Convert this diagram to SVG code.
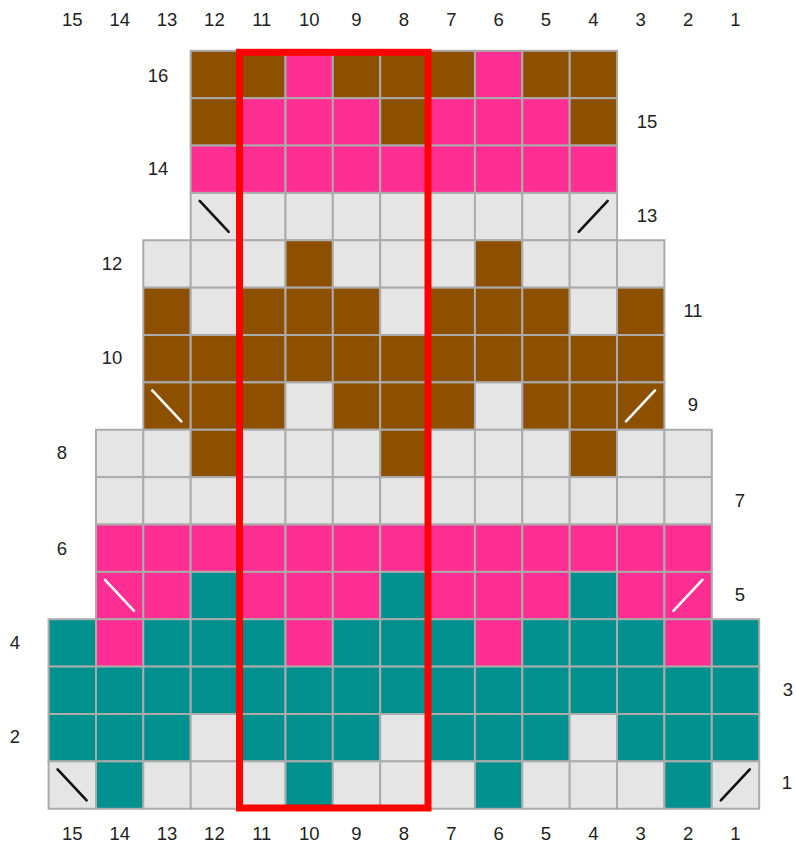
<svg xmlns="http://www.w3.org/2000/svg" width="796" height="855" viewBox="0 0 796 855">
<style>
rect.c{stroke:#ababab;stroke-width:2;width:47.4px;height:47.4px}
.b{fill:#8d5000}.p{fill:#ff2e92}.t{fill:#00918e}.g{fill:#e5e5e5}
.dk{stroke:#111;stroke-width:2.6;stroke-linecap:round}
.wh{stroke:#fff;stroke-width:2.6;stroke-linecap:round}
text{font-family:"Liberation Sans",Arial,sans-serif;font-size:18.5px;fill:#222;text-anchor:middle}
</style>
<rect width="796" height="855" fill="#fff"/>
<g id="row16" transform="translate(0,50.8)">
<rect class="c b" x="190.7" y="0" width="47.4" height="47.4"/><rect class="c b" x="238.1" y="0" width="47.4" height="47.4"/><rect class="c p" x="285.5" y="0" width="47.4" height="47.4"/><rect class="c b" x="332.8" y="0" width="47.4" height="47.4"/><rect class="c b" x="380.2" y="0" width="47.4" height="47.4"/><rect class="c b" x="427.6" y="0" width="47.4" height="47.4"/><rect class="c p" x="474.9" y="0" width="47.4" height="47.4"/><rect class="c b" x="522.3" y="0" width="47.4" height="47.4"/><rect class="c b" x="569.7" y="0" width="47.4" height="47.4"/>
</g>
<g id="row15" transform="translate(0,98.17)">
<rect class="c b" x="190.7" y="0" width="47.4" height="47.4"/><rect class="c p" x="238.1" y="0" width="47.4" height="47.4"/><rect class="c p" x="285.5" y="0" width="47.4" height="47.4"/><rect class="c p" x="332.8" y="0" width="47.4" height="47.4"/><rect class="c b" x="380.2" y="0" width="47.4" height="47.4"/><rect class="c p" x="427.6" y="0" width="47.4" height="47.4"/><rect class="c p" x="474.9" y="0" width="47.4" height="47.4"/><rect class="c p" x="522.3" y="0" width="47.4" height="47.4"/><rect class="c b" x="569.7" y="0" width="47.4" height="47.4"/>
</g>
<g id="row14" transform="translate(0,145.54)">
<rect class="c p" x="190.7" y="0" width="47.4" height="47.4"/><rect class="c p" x="238.1" y="0" width="47.4" height="47.4"/><rect class="c p" x="285.5" y="0" width="47.4" height="47.4"/><rect class="c p" x="332.8" y="0" width="47.4" height="47.4"/><rect class="c p" x="380.2" y="0" width="47.4" height="47.4"/><rect class="c p" x="427.6" y="0" width="47.4" height="47.4"/><rect class="c p" x="474.9" y="0" width="47.4" height="47.4"/><rect class="c p" x="522.3" y="0" width="47.4" height="47.4"/><rect class="c p" x="569.7" y="0" width="47.4" height="47.4"/>
</g>
<g id="row13" transform="translate(0,192.91)">
<rect class="c g" x="190.7" y="0" width="47.4" height="47.4"/><rect class="c g" x="238.1" y="0" width="47.4" height="47.4"/><rect class="c g" x="285.5" y="0" width="47.4" height="47.4"/><rect class="c g" x="332.8" y="0" width="47.4" height="47.4"/><rect class="c g" x="380.2" y="0" width="47.4" height="47.4"/><rect class="c g" x="427.6" y="0" width="47.4" height="47.4"/><rect class="c g" x="474.9" y="0" width="47.4" height="47.4"/><rect class="c g" x="522.3" y="0" width="47.4" height="47.4"/><rect class="c g" x="569.7" y="0" width="47.4" height="47.4"/>
<line class="dk" x1="199.7" y1="8" x2="228.7" y2="39"/><line class="dk" x1="578.7" y1="39" x2="607.7" y2="8"/>
</g>
<g id="row12" transform="translate(0,240.28)">
<rect class="c g" x="143.3" y="0" width="47.4" height="47.4"/><rect class="c g" x="190.7" y="0" width="47.4" height="47.4"/><rect class="c g" x="238.1" y="0" width="47.4" height="47.4"/><rect class="c b" x="285.5" y="0" width="47.4" height="47.4"/><rect class="c g" x="332.8" y="0" width="47.4" height="47.4"/><rect class="c g" x="380.2" y="0" width="47.4" height="47.4"/><rect class="c g" x="427.6" y="0" width="47.4" height="47.4"/><rect class="c b" x="474.9" y="0" width="47.4" height="47.4"/><rect class="c g" x="522.3" y="0" width="47.4" height="47.4"/><rect class="c g" x="569.7" y="0" width="47.4" height="47.4"/><rect class="c g" x="617.0" y="0" width="47.4" height="47.4"/>
</g>
<g id="row11" transform="translate(0,287.65)">
<rect class="c b" x="143.3" y="0" width="47.4" height="47.4"/><rect class="c g" x="190.7" y="0" width="47.4" height="47.4"/><rect class="c b" x="238.1" y="0" width="47.4" height="47.4"/><rect class="c b" x="285.5" y="0" width="47.4" height="47.4"/><rect class="c b" x="332.8" y="0" width="47.4" height="47.4"/><rect class="c g" x="380.2" y="0" width="47.4" height="47.4"/><rect class="c b" x="427.6" y="0" width="47.4" height="47.4"/><rect class="c b" x="474.9" y="0" width="47.4" height="47.4"/><rect class="c b" x="522.3" y="0" width="47.4" height="47.4"/><rect class="c g" x="569.7" y="0" width="47.4" height="47.4"/><rect class="c b" x="617.0" y="0" width="47.4" height="47.4"/>
</g>
<g id="row10" transform="translate(0,335.02)">
<rect class="c b" x="143.3" y="0" width="47.4" height="47.4"/><rect class="c b" x="190.7" y="0" width="47.4" height="47.4"/><rect class="c b" x="238.1" y="0" width="47.4" height="47.4"/><rect class="c b" x="285.5" y="0" width="47.4" height="47.4"/><rect class="c b" x="332.8" y="0" width="47.4" height="47.4"/><rect class="c b" x="380.2" y="0" width="47.4" height="47.4"/><rect class="c b" x="427.6" y="0" width="47.4" height="47.4"/><rect class="c b" x="474.9" y="0" width="47.4" height="47.4"/><rect class="c b" x="522.3" y="0" width="47.4" height="47.4"/><rect class="c b" x="569.7" y="0" width="47.4" height="47.4"/><rect class="c b" x="617.0" y="0" width="47.4" height="47.4"/>
</g>
<g id="row9" transform="translate(0,382.39)">
<rect class="c b" x="143.3" y="0" width="47.4" height="47.4"/><rect class="c b" x="190.7" y="0" width="47.4" height="47.4"/><rect class="c b" x="238.1" y="0" width="47.4" height="47.4"/><rect class="c g" x="285.5" y="0" width="47.4" height="47.4"/><rect class="c b" x="332.8" y="0" width="47.4" height="47.4"/><rect class="c b" x="380.2" y="0" width="47.4" height="47.4"/><rect class="c b" x="427.6" y="0" width="47.4" height="47.4"/><rect class="c g" x="474.9" y="0" width="47.4" height="47.4"/><rect class="c b" x="522.3" y="0" width="47.4" height="47.4"/><rect class="c b" x="569.7" y="0" width="47.4" height="47.4"/><rect class="c b" x="617.0" y="0" width="47.4" height="47.4"/>
<line class="wh" x1="152.3" y1="8" x2="181.3" y2="39"/><line class="wh" x1="626" y1="39" x2="655" y2="8"/>
</g>
<g id="row8" transform="translate(0,429.76)">
<rect class="c g" x="96.0" y="0" width="47.4" height="47.4"/><rect class="c g" x="143.3" y="0" width="47.4" height="47.4"/><rect class="c b" x="190.7" y="0" width="47.4" height="47.4"/><rect class="c g" x="238.1" y="0" width="47.4" height="47.4"/><rect class="c g" x="285.5" y="0" width="47.4" height="47.4"/><rect class="c g" x="332.8" y="0" width="47.4" height="47.4"/><rect class="c b" x="380.2" y="0" width="47.4" height="47.4"/><rect class="c g" x="427.6" y="0" width="47.4" height="47.4"/><rect class="c g" x="474.9" y="0" width="47.4" height="47.4"/><rect class="c g" x="522.3" y="0" width="47.4" height="47.4"/><rect class="c b" x="569.7" y="0" width="47.4" height="47.4"/><rect class="c g" x="617.0" y="0" width="47.4" height="47.4"/><rect class="c g" x="664.4" y="0" width="47.4" height="47.4"/>
</g>
<g id="row7" transform="translate(0,477.13)">
<rect class="c g" x="96.0" y="0" width="47.4" height="47.4"/><rect class="c g" x="143.3" y="0" width="47.4" height="47.4"/><rect class="c g" x="190.7" y="0" width="47.4" height="47.4"/><rect class="c g" x="238.1" y="0" width="47.4" height="47.4"/><rect class="c g" x="285.5" y="0" width="47.4" height="47.4"/><rect class="c g" x="332.8" y="0" width="47.4" height="47.4"/><rect class="c g" x="380.2" y="0" width="47.4" height="47.4"/><rect class="c g" x="427.6" y="0" width="47.4" height="47.4"/><rect class="c g" x="474.9" y="0" width="47.4" height="47.4"/><rect class="c g" x="522.3" y="0" width="47.4" height="47.4"/><rect class="c g" x="569.7" y="0" width="47.4" height="47.4"/><rect class="c g" x="617.0" y="0" width="47.4" height="47.4"/><rect class="c g" x="664.4" y="0" width="47.4" height="47.4"/>
</g>
<g id="row6" transform="translate(0,524.5)">
<rect class="c p" x="96.0" y="0" width="47.4" height="47.4"/><rect class="c p" x="143.3" y="0" width="47.4" height="47.4"/><rect class="c p" x="190.7" y="0" width="47.4" height="47.4"/><rect class="c p" x="238.1" y="0" width="47.4" height="47.4"/><rect class="c p" x="285.5" y="0" width="47.4" height="47.4"/><rect class="c p" x="332.8" y="0" width="47.4" height="47.4"/><rect class="c p" x="380.2" y="0" width="47.4" height="47.4"/><rect class="c p" x="427.6" y="0" width="47.4" height="47.4"/><rect class="c p" x="474.9" y="0" width="47.4" height="47.4"/><rect class="c p" x="522.3" y="0" width="47.4" height="47.4"/><rect class="c p" x="569.7" y="0" width="47.4" height="47.4"/><rect class="c p" x="617.0" y="0" width="47.4" height="47.4"/><rect class="c p" x="664.4" y="0" width="47.4" height="47.4"/>
</g>
<g id="row5" transform="translate(0,571.87)">
<rect class="c p" x="96.0" y="0" width="47.4" height="47.4"/><rect class="c p" x="143.3" y="0" width="47.4" height="47.4"/><rect class="c t" x="190.7" y="0" width="47.4" height="47.4"/><rect class="c p" x="238.1" y="0" width="47.4" height="47.4"/><rect class="c p" x="285.5" y="0" width="47.4" height="47.4"/><rect class="c p" x="332.8" y="0" width="47.4" height="47.4"/><rect class="c t" x="380.2" y="0" width="47.4" height="47.4"/><rect class="c p" x="427.6" y="0" width="47.4" height="47.4"/><rect class="c p" x="474.9" y="0" width="47.4" height="47.4"/><rect class="c p" x="522.3" y="0" width="47.4" height="47.4"/><rect class="c t" x="569.7" y="0" width="47.4" height="47.4"/><rect class="c p" x="617.0" y="0" width="47.4" height="47.4"/><rect class="c p" x="664.4" y="0" width="47.4" height="47.4"/>
<line class="wh" x1="105" y1="8" x2="134" y2="39"/><line class="wh" x1="673.4" y1="39" x2="702.4" y2="8"/>
</g>
<g id="row4" transform="translate(0,619.24)">
<rect class="c t" x="48.6" y="0" width="47.4" height="47.4"/><rect class="c p" x="96.0" y="0" width="47.4" height="47.4"/><rect class="c t" x="143.3" y="0" width="47.4" height="47.4"/><rect class="c t" x="190.7" y="0" width="47.4" height="47.4"/><rect class="c t" x="238.1" y="0" width="47.4" height="47.4"/><rect class="c p" x="285.5" y="0" width="47.4" height="47.4"/><rect class="c t" x="332.8" y="0" width="47.4" height="47.4"/><rect class="c t" x="380.2" y="0" width="47.4" height="47.4"/><rect class="c t" x="427.6" y="0" width="47.4" height="47.4"/><rect class="c p" x="474.9" y="0" width="47.4" height="47.4"/><rect class="c t" x="522.3" y="0" width="47.4" height="47.4"/><rect class="c t" x="569.7" y="0" width="47.4" height="47.4"/><rect class="c t" x="617.0" y="0" width="47.4" height="47.4"/><rect class="c p" x="664.4" y="0" width="47.4" height="47.4"/><rect class="c t" x="711.8" y="0" width="47.4" height="47.4"/>
</g>
<g id="row3" transform="translate(0,666.61)">
<rect class="c t" x="48.6" y="0" width="47.4" height="47.4"/><rect class="c t" x="96.0" y="0" width="47.4" height="47.4"/><rect class="c t" x="143.3" y="0" width="47.4" height="47.4"/><rect class="c t" x="190.7" y="0" width="47.4" height="47.4"/><rect class="c t" x="238.1" y="0" width="47.4" height="47.4"/><rect class="c t" x="285.5" y="0" width="47.4" height="47.4"/><rect class="c t" x="332.8" y="0" width="47.4" height="47.4"/><rect class="c t" x="380.2" y="0" width="47.4" height="47.4"/><rect class="c t" x="427.6" y="0" width="47.4" height="47.4"/><rect class="c t" x="474.9" y="0" width="47.4" height="47.4"/><rect class="c t" x="522.3" y="0" width="47.4" height="47.4"/><rect class="c t" x="569.7" y="0" width="47.4" height="47.4"/><rect class="c t" x="617.0" y="0" width="47.4" height="47.4"/><rect class="c t" x="664.4" y="0" width="47.4" height="47.4"/><rect class="c t" x="711.8" y="0" width="47.4" height="47.4"/>
</g>
<g id="row2" transform="translate(0,713.98)">
<rect class="c t" x="48.6" y="0" width="47.4" height="47.4"/><rect class="c t" x="96.0" y="0" width="47.4" height="47.4"/><rect class="c t" x="143.3" y="0" width="47.4" height="47.4"/><rect class="c g" x="190.7" y="0" width="47.4" height="47.4"/><rect class="c t" x="238.1" y="0" width="47.4" height="47.4"/><rect class="c t" x="285.5" y="0" width="47.4" height="47.4"/><rect class="c t" x="332.8" y="0" width="47.4" height="47.4"/><rect class="c g" x="380.2" y="0" width="47.4" height="47.4"/><rect class="c t" x="427.6" y="0" width="47.4" height="47.4"/><rect class="c t" x="474.9" y="0" width="47.4" height="47.4"/><rect class="c t" x="522.3" y="0" width="47.4" height="47.4"/><rect class="c g" x="569.7" y="0" width="47.4" height="47.4"/><rect class="c t" x="617.0" y="0" width="47.4" height="47.4"/><rect class="c t" x="664.4" y="0" width="47.4" height="47.4"/><rect class="c t" x="711.8" y="0" width="47.4" height="47.4"/>
</g>
<g id="row1" transform="translate(0,761.35)">
<rect class="c g" x="48.6" y="0" width="47.4" height="47.4"/><rect class="c t" x="96.0" y="0" width="47.4" height="47.4"/><rect class="c g" x="143.3" y="0" width="47.4" height="47.4"/><rect class="c g" x="190.7" y="0" width="47.4" height="47.4"/><rect class="c g" x="238.1" y="0" width="47.4" height="47.4"/><rect class="c t" x="285.5" y="0" width="47.4" height="47.4"/><rect class="c g" x="332.8" y="0" width="47.4" height="47.4"/><rect class="c g" x="380.2" y="0" width="47.4" height="47.4"/><rect class="c g" x="427.6" y="0" width="47.4" height="47.4"/><rect class="c t" x="474.9" y="0" width="47.4" height="47.4"/><rect class="c g" x="522.3" y="0" width="47.4" height="47.4"/><rect class="c g" x="569.7" y="0" width="47.4" height="47.4"/><rect class="c g" x="617.0" y="0" width="47.4" height="47.4"/><rect class="c t" x="664.4" y="0" width="47.4" height="47.4"/><rect class="c g" x="711.8" y="0" width="47.4" height="47.4"/>
<line class="dk" x1="57.6" y1="8" x2="86.6" y2="39"/><line class="dk" x1="720.8" y1="39" x2="749.8" y2="8"/>
</g>
<g id="highlight">
<rect x="239.5" y="52.3" width="188.5" height="755.7" fill="none" stroke="#ff0000" stroke-width="7"/>
</g>
<g id="col-labels-top">
<text x="72.3" y="25.5">15</text><text x="119.7" y="25.5">14</text><text x="167" y="25.5">13</text><text x="214.4" y="25.5">12</text><text x="261.8" y="25.5">11</text><text x="309.2" y="25.5">10</text><text x="356.5" y="25.5">9</text><text x="403.9" y="25.5">8</text><text x="451.3" y="25.5">7</text><text x="498.6" y="25.5">6</text><text x="546" y="25.5">5</text><text x="593.4" y="25.5">4</text><text x="640.7" y="25.5">3</text><text x="688.1" y="25.5">2</text><text x="735.5" y="25.5">1</text>
</g>
<g id="col-labels-bottom">
<text x="72.3" y="840">15</text><text x="119.7" y="840">14</text><text x="167" y="840">13</text><text x="214.4" y="840">12</text><text x="261.8" y="840">11</text><text x="309.2" y="840">10</text><text x="356.5" y="840">9</text><text x="403.9" y="840">8</text><text x="451.3" y="840">7</text><text x="498.6" y="840">6</text><text x="546" y="840">5</text><text x="593.4" y="840">4</text><text x="640.7" y="840">3</text><text x="688.1" y="840">2</text><text x="735.5" y="840">1</text>
</g>
<g id="row-labels">
<text x="158" y="82">16</text><text x="158" y="175">14</text><text x="112" y="270">12</text><text x="112" y="364">10</text><text x="62" y="459">8</text><text x="62" y="554.5">6</text><text x="15" y="649">4</text><text x="15" y="743">2</text>
<text x="647" y="128">15</text><text x="647" y="222">13</text><text x="693" y="317">11</text><text x="693" y="410.5">9</text><text x="740" y="506.5">7</text><text x="740" y="601">5</text><text x="788" y="695.5">3</text><text x="787" y="789">1</text>
</g>
</svg>
